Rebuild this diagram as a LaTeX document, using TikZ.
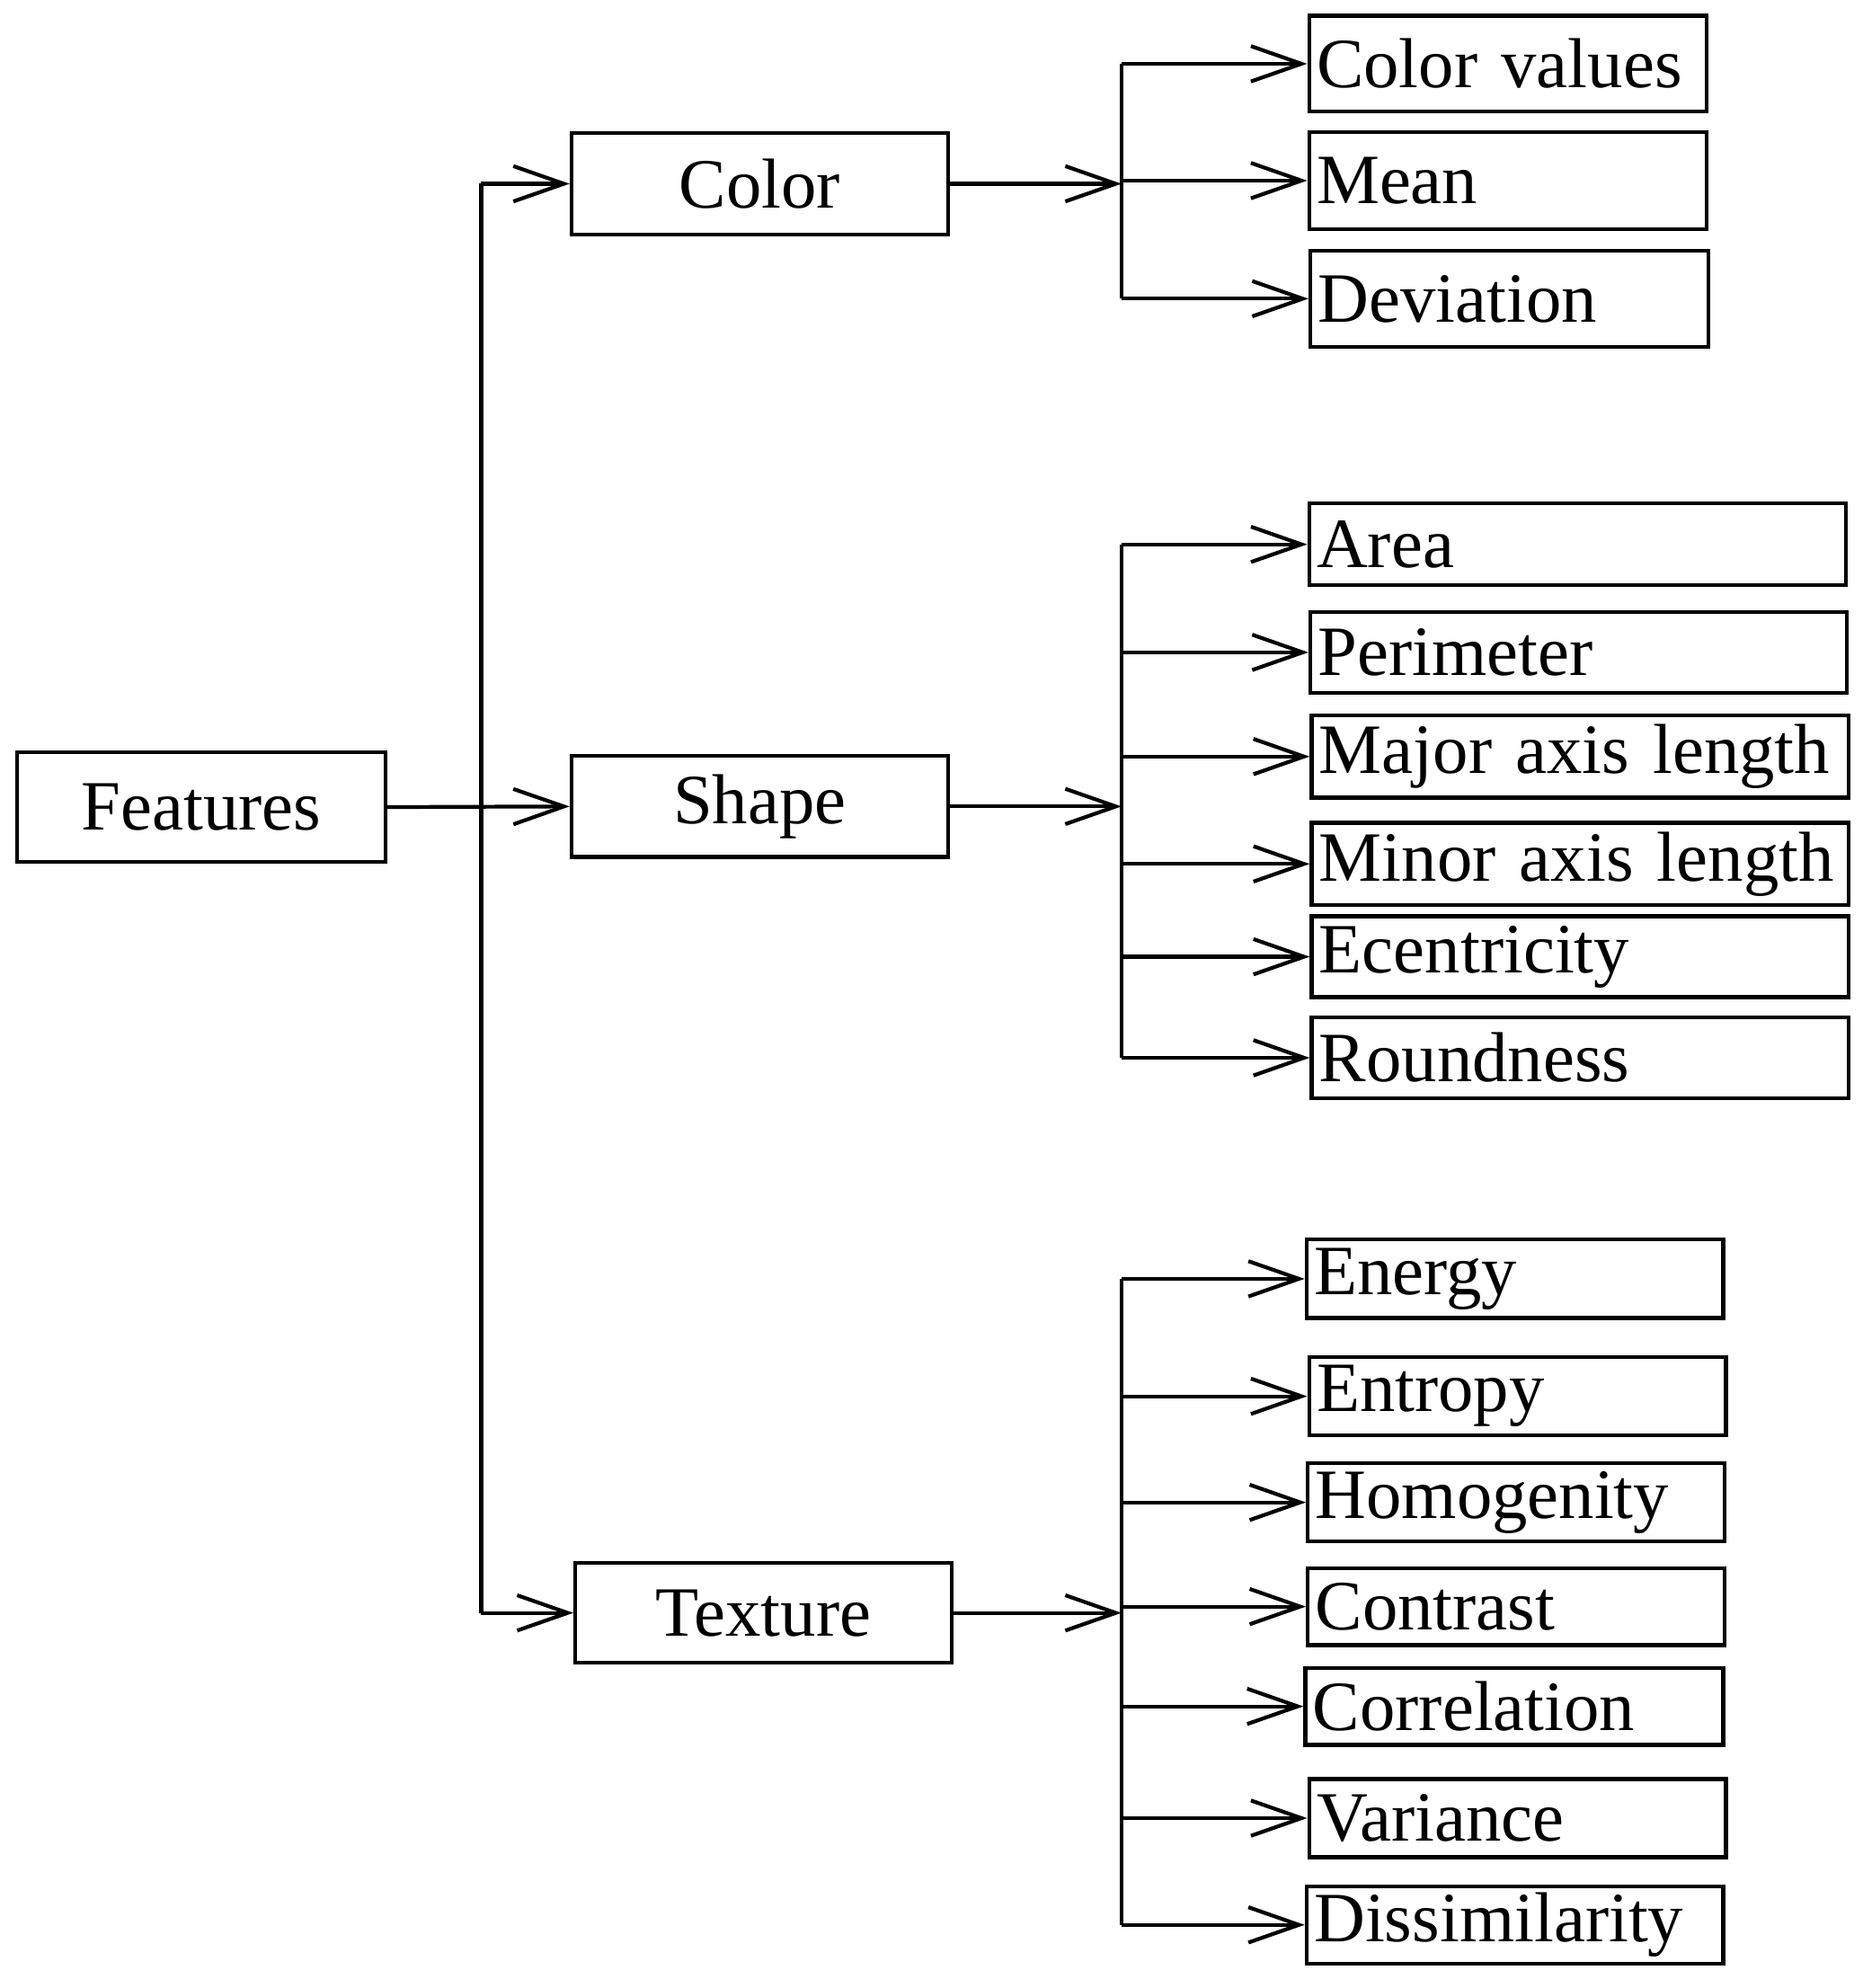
\documentclass[tikz,border=0pt]{standalone}
\usepackage{fontspec}
\setmainfont{Liberation Serif}
\usetikzlibrary{arrows.meta}
\begin{document}
\begin{tikzpicture}[x=0.5pt,y=-0.5pt,
  box/.style={draw,line width=1.5pt,inner sep=0pt,anchor=north west,font=\fontsize{28}{30}\selectfont},
  arr/.style={line width=1.5pt,-{Straight Barb[length=20pt,width=14pt,line width=1.5pt]}},
  ln/.style={line width=1.5pt}]
\useasboundingbox (0,0) rectangle (1475,1574);
\newcommand\mybox[6]{\node[box,minimum width=#4*0.5pt-#2*0.5pt,minimum height=#5*0.5pt-#3*0.5pt] (#1) at (#2,#3) {#6};}
\newcommand\myleaf[6]{\node[box,minimum width=#4*0.5pt-#2*0.5pt,minimum height=#5*0.5pt-#3*0.5pt,text width=#4*0.5pt-#2*0.5pt-6pt,align=left,inner xsep=3pt] (#1) at (#2,#3) {\mbox{#6}};}
\mybox{feat}{12}{594}{304}{681}{Features}
\mybox{color}{451}{104}{749}{184}{Color}
\mybox{shape}{451}{597}{749}{677}{Shape}
\mybox{texture}{454}{1236}{752}{1315}{Texture}
\myleaf{cv}{1035}{11}{1350}{87}{Color values}
\myleaf{mean}{1035}{103}{1350}{180}{Mean}
\myleaf{dev}{1036}{197}{1351}{273}{Deviation}
\myleaf{area}{1035}{397}{1460}{462}{Area}
\myleaf{per}{1036}{483}{1461}{547}{Perimeter}
\myleaf{maj}{1037}{565}{1462}{630}{Major axis length}
\myleaf{min}{1037}{650}{1462}{715}{Minor axis length}
\myleaf{ecc}{1037}{724}{1462}{788}{Ecentricity}
\myleaf{rnd}{1037}{804}{1462}{868}{Roundness}
\myleaf{ene}{1033}{980}{1363}{1042}{Energy}
\myleaf{ent}{1035}{1073}{1365}{1135}{Entropy}
\myleaf{hom}{1034}{1157}{1364}{1219}{Homogenity}
\myleaf{con}{1034}{1240}{1364}{1301}{Contrast}
\myleaf{cor}{1032}{1319}{1363}{1380}{Correlation}
\myleaf{var}{1035}{1407}{1365}{1469}{Variance}
\myleaf{dis}{1033}{1492}{1363}{1553}{Dissimilarity}
\coordinate (t) at (381,0);
\coordinate (b) at (888,0);
% trunk
\draw[ln] (feat.east) -- (feat.east -| t);
\draw[ln] (color.west -| t) -- (texture.west -| t);
\draw[arr] (color.west -| t) -- (color.west);
\draw[arr] (feat.east) -- (shape.west);
\draw[arr] (texture.west -| t) -- (texture.west);
% color
\draw[arr] (color.east) -- (color.east -| b);
\draw[ln] (cv.west -| b) -- (dev.west -| b);
\foreach \n in {cv,mean,dev} \draw[arr] (\n.west -| b) -- (\n.west);
% shape
\draw[arr] (shape.east) -- (shape.east -| b);
\draw[ln] (area.west -| b) -- (rnd.west -| b);
\foreach \n in {area,per,maj,min,ecc,rnd} \draw[arr] (\n.west -| b) -- (\n.west);
% texture
\draw[arr] (texture.east) -- (texture.east -| b);
\draw[ln] (ene.west -| b) -- (dis.west -| b);
\foreach \n in {ene,ent,hom,con,cor,var,dis} \draw[arr] (\n.west -| b) -- (\n.west);
\end{tikzpicture}
\end{document}
